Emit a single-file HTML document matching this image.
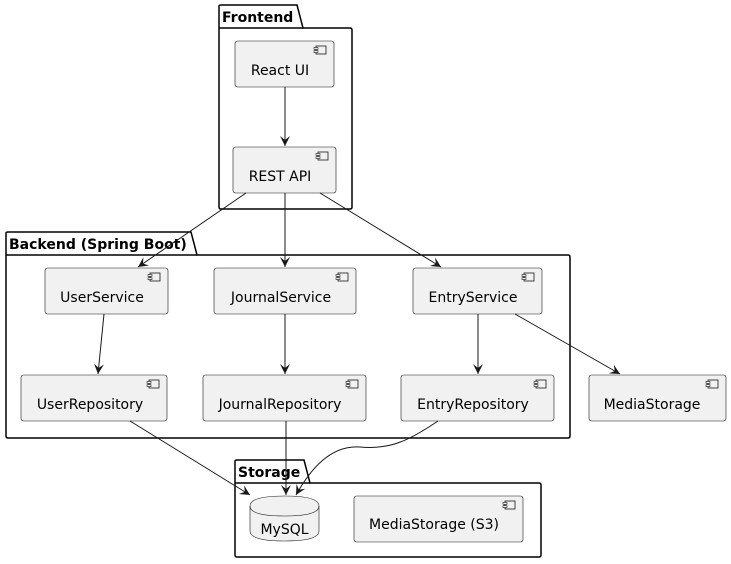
<!DOCTYPE html>
<html><head><meta charset="utf-8"><style>
html,body{margin:0;padding:0;background:#fff;}
svg{display:block;}
text{font-family:"DejaVu Sans","Liberation Sans",sans-serif;}
</style></head><body>
<svg width="731" height="564" viewBox="0 0 731 564" xmlns="http://www.w3.org/2000/svg">
<defs>
<marker id="a" markerWidth="12" markerHeight="12" refX="10" refY="5" orient="auto" markerUnits="userSpaceOnUse">
<path d="M0,0 L10,5 L0,10 L4,5 Z" fill="#181818"/>
</marker>
<g id="ic"><rect x="0" y="0" width="10" height="8" fill="#f1f1f1" stroke="#181818" stroke-width="0.8"/><rect x="-2" y="1.5" width="4" height="1.8" fill="#f1f1f1" stroke="#181818" stroke-width="0.6"/><rect x="-2" y="4.7" width="4" height="1.8" fill="#f1f1f1" stroke="#181818" stroke-width="0.6"/></g>
</defs>
<g fill="none" stroke="#000" stroke-width="1.5">
<path d="M219,28 L219,6 Q219,5 221,5 L297,5 L303,28 L350,28 Q352,28 352,30 L352,207 Q352,209 350,209 L221,209 Q219,209 219,207 Z"/>
<line x1="219" y1="28" x2="303" y2="28"/>
<path d="M6,255 L6,233 Q6,232 8,232 L191,232 L197,255 L568,255 Q570,255 570,257 L570,436 Q570,438 568,438 L8,438 Q6,438 6,436 Z"/>
<line x1="6" y1="255" x2="197" y2="255"/>
<path d="M235,483 L235,461 Q235,460 237,460 L304,460 L310,483 L539,483 Q541,483 541,485 L541,555 Q541,557 539,557 L237,557 Q235,557 235,555 Z"/>
<line x1="235" y1="483" x2="310" y2="483"/>
</g>
<g font-weight="bold" font-size="14" fill="#000">
<text x="222" y="22">Frontend</text>
<text x="9" y="249">Backend (Spring Boot)</text>
<text x="238" y="477">Storage</text>
</g>
<g fill="#f1f1f1" stroke="#181818" stroke-width="0.6">
<rect x="235" y="41" width="99" height="46" rx="2.5"/>
<rect x="233" y="147" width="103" height="46" rx="2.5"/>
<rect x="45" y="268" width="123" height="46" rx="2.5"/>
<rect x="214" y="268" width="142" height="46" rx="2.5"/>
<rect x="413" y="268" width="129" height="46" rx="2.5"/>
<rect x="21" y="375" width="146" height="46" rx="2.5"/>
<rect x="203" y="375" width="163" height="46" rx="2.5"/>
<rect x="401" y="375" width="153" height="46" rx="2.5"/>
<rect x="589" y="375" width="137" height="46" rx="2.5"/>
<rect x="354" y="496" width="169" height="46" rx="2.5"/>
<path d="M250,506 Q250,496 284.5,496 Q319,496 319,506 L319,531 Q319,541 284.5,541 Q250,541 250,531 Z"/>
<path d="M250,506 Q250,516 284.5,516 Q319,516 319,506" fill="none"/>
</g>
<use href="#ic" x="316" y="46"/>
<use href="#ic" x="318" y="152"/>
<use href="#ic" x="150" y="273"/>
<use href="#ic" x="338" y="273"/>
<use href="#ic" x="524" y="273"/>
<use href="#ic" x="149" y="380"/>
<use href="#ic" x="348" y="380"/>
<use href="#ic" x="536" y="380"/>
<use href="#ic" x="708" y="380"/>
<use href="#ic" x="505" y="501"/>
<g font-size="14" fill="#000" text-anchor="middle">
<text x="280" y="75">React UI</text>
<text x="280" y="181">REST API</text>
<text x="102" y="302">UserService</text>
<text x="281" y="302">JournalService</text>
<text x="473" y="302">EntryService</text>
<text x="90" y="409">UserRepository</text>
<text x="280" y="409">JournalRepository</text>
<text x="473" y="409">EntryRepository</text>
<text x="652" y="409">MediaStorage</text>
<text x="434" y="529">MediaStorage (S3)</text>
<text x="284.5" y="534">MySQL</text>
</g>
<g fill="none" stroke="#181818" stroke-width="1" marker-end="url(#a)">
<line x1="285" y1="87" x2="285" y2="146"/>
<line x1="246" y1="193" x2="138" y2="267"/>
<line x1="285" y1="193" x2="285" y2="267"/>
<line x1="320" y1="193" x2="441" y2="267"/>
<line x1="104" y1="314" x2="98" y2="374"/>
<line x1="285" y1="314" x2="285" y2="374"/>
<line x1="478" y1="314" x2="478" y2="374"/>
<line x1="515" y1="314" x2="620" y2="374"/>
<line x1="130" y1="421" x2="250" y2="495"/>
<line x1="286" y1="421" x2="286" y2="495"/>
<path d="M438,421 C410,440 390,450 360,447 C330,445 310,470 296,495"/>
</g>
</svg>
</body></html>
